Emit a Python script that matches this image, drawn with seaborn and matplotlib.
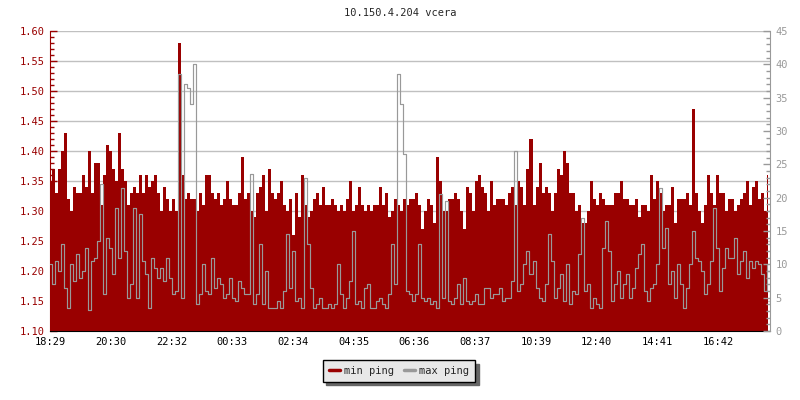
import matplotlib

matplotlib.use("Agg")

import matplotlib.pyplot as plt
import numpy as np
import pandas as pd
import seaborn as sns
from matplotlib.lines import Line2D
from matplotlib.ticker import MultipleLocator

TITLE = "10.150.4.204 vcera"
START_TIME = "18:29"
STEP_MINUTES = 6

tick_labels = ["18:29", "20:30", "22:32", "00:33", "02:34", "04:35",
               "06:36", "08:37", "10:39", "12:40", "14:41", "16:42"]

# min ping (left axis), one value every 6 minutes
min_ping = [
    1.35, 1.37, 1.33, 1.37, 1.40, 1.43, 1.32, 1.30, 1.34, 1.33,
    1.33, 1.36, 1.34, 1.40, 1.33, 1.38, 1.38, 1.31, 1.36, 1.41,
    1.40, 1.37, 1.35, 1.43, 1.37, 1.35, 1.31, 1.33, 1.34, 1.33,
    1.36, 1.33, 1.36, 1.34, 1.35, 1.36, 1.33, 1.30, 1.34, 1.32,
    1.30, 1.32, 1.30, 1.58, 1.36, 1.32, 1.33, 1.32, 1.32, 1.30,
    1.33, 1.31, 1.36, 1.36, 1.33, 1.32, 1.33, 1.31, 1.32, 1.35,
    1.32, 1.31, 1.31, 1.33, 1.39, 1.32, 1.33, 1.30, 1.29, 1.33,
    1.34, 1.36, 1.30, 1.37, 1.33, 1.32, 1.33, 1.35, 1.31, 1.30,
    1.32, 1.26, 1.33, 1.29, 1.36, 1.31, 1.29, 1.30, 1.32, 1.33,
    1.31, 1.34, 1.31, 1.31, 1.32, 1.31, 1.30, 1.31, 1.30, 1.32,
    1.35, 1.30, 1.31, 1.34, 1.31, 1.30, 1.31, 1.30, 1.31, 1.31,
    1.34, 1.31, 1.33, 1.29, 1.30, 1.32, 1.31, 1.30, 1.32, 1.31,
    1.32, 1.32, 1.33, 1.31, 1.27, 1.30, 1.32, 1.31, 1.28, 1.39,
    1.35, 1.30, 1.30, 1.32, 1.32, 1.33, 1.32, 1.30, 1.27, 1.34,
    1.33, 1.30, 1.35, 1.36, 1.34, 1.33, 1.30, 1.35, 1.31, 1.32,
    1.32, 1.32, 1.31, 1.33, 1.34, 1.31, 1.35, 1.34, 1.31, 1.37,
    1.42, 1.31, 1.34, 1.38, 1.33, 1.34, 1.33, 1.30, 1.33, 1.37,
    1.36, 1.40, 1.38, 1.33, 1.33, 1.30, 1.31, 1.28, 1.28, 1.30,
    1.35, 1.32, 1.31, 1.33, 1.32, 1.31, 1.31, 1.31, 1.33, 1.33,
    1.35, 1.32, 1.32, 1.31, 1.31, 1.32, 1.29, 1.31, 1.31, 1.30,
    1.36, 1.32, 1.35, 1.33, 1.30, 1.31, 1.31, 1.34, 1.28, 1.32,
    1.32, 1.32, 1.33, 1.31, 1.47, 1.33, 1.30, 1.28, 1.31, 1.36,
    1.33, 1.31, 1.36, 1.33, 1.33, 1.30, 1.32, 1.32, 1.30, 1.31,
    1.32, 1.33, 1.35, 1.31, 1.34, 1.35, 1.32, 1.33, 1.30, 1.36,
]

# max ping (right axis), same timestamps
max_ping = [
    10.0, 7.0, 10.5, 9.0, 13.0, 6.5, 3.5, 10.0, 7.5, 11.5,
    8.0, 9.0, 12.5, 3.2, 10.5, 11.0, 13.5, 22.0, 5.5, 14.0,
    12.5, 8.5, 18.5, 11.0, 21.5, 12.0, 5.0, 7.0, 18.5, 5.0,
    17.5, 10.5, 8.5, 3.5, 11.0, 9.5, 8.0, 9.5, 7.5, 11.0,
    8.0, 5.5, 6.0, 38.5, 5.0, 37.0, 36.5, 34.0, 40.0, 4.0,
    5.5, 10.0, 6.0, 5.5, 11.0, 6.5, 8.0, 7.0, 5.0, 5.5,
    8.0, 5.0, 4.5, 7.5, 6.5, 5.5, 5.5, 23.5, 4.0, 5.5,
    13.0, 4.0, 9.0, 3.5, 3.5, 3.5, 4.5, 3.5, 6.0, 14.5,
    6.5, 12.0, 4.5, 5.0, 3.5, 23.0, 13.0, 6.5, 3.5, 4.0,
    5.0, 3.5, 3.5, 4.0, 3.5, 4.0, 10.0, 5.5, 3.5, 5.0,
    7.5, 15.0, 4.0, 4.5, 3.5, 6.5, 7.0, 3.5, 3.5, 4.5,
    5.0, 4.0, 3.5, 5.5, 13.0, 7.0, 38.5, 34.0, 26.5, 6.0,
    5.5, 4.5, 5.5, 13.0, 5.0, 4.5, 5.0, 4.0, 4.5, 3.5,
    20.5, 5.0, 19.5, 4.5, 4.0, 5.0, 7.0, 4.0, 8.0, 4.5,
    4.0, 4.5, 5.5, 4.0, 4.0, 6.5, 6.5, 5.0, 5.5, 5.5,
    6.5, 4.5, 5.0, 5.0, 7.5, 27.0, 6.0, 7.0, 10.0, 12.0,
    8.5, 10.5, 6.5, 5.0, 4.5, 7.0, 14.5, 10.5, 5.0, 6.5,
    8.5, 4.5, 10.0, 4.0, 6.0, 5.5, 11.5, 17.0, 6.0, 7.0,
    3.5, 5.0, 4.0, 3.5, 12.5, 16.5, 12.0, 4.5, 7.0, 9.0,
    5.0, 7.0, 8.5, 5.0, 6.5, 9.5, 11.5, 13.0, 6.0, 4.5,
    6.5, 7.0, 10.0, 21.5, 12.5, 15.5, 7.0, 9.0, 5.0, 10.0,
    7.0, 3.5, 6.5, 10.0, 15.0, 11.0, 10.5, 9.0, 5.5, 7.0,
    10.5, 18.5, 12.5, 6.0, 9.5, 12.5, 11.0, 11.0, 14.0, 8.5,
    10.5, 12.0, 8.0, 10.5, 9.5, 10.5, 10.0, 8.5, 6.0, 10.0,
]

RED = "#990000"
GRAY = "#999999"


def minutes_from_start(label: str) -> int:
    h, m = map(int, label.split(":"))
    sh, sm = map(int, START_TIME.split(":"))
    return (h * 60 + m - (sh * 60 + sm)) % 1440


df = pd.DataFrame({
    "minute": np.arange(len(min_ping)) * STEP_MINUTES,
    "min_ping": min_ping,
    "max_ping": max_ping,
})

sns.set_style("white")
plt.rcParams["font.family"] = ["DejaVu Sans Mono"]
plt.rcParams["font.size"] = 7.5

fig = plt.figure(figsize=(8, 4), dpi=100)
ax = fig.add_axes([0.0625, 0.1725, 0.9, 0.75])

ax.set_axisbelow(True)
ax.grid(axis="y", color="#c0c0c0", linewidth=1)
ax.grid(axis="x", visible=False)
ax.fill_between(df["minute"], 1.10, df["min_ping"], step="mid",
                color=RED, linewidth=0, zorder=2)
ax.set_ylim(1.10, 1.60)
ax.set_xlim(0, 1437)
ax.yaxis.set_major_locator(MultipleLocator(0.05))
ax.yaxis.set_minor_locator(MultipleLocator(0.01))
ax.yaxis.set_major_formatter(lambda v, _: f"{v:.2f}")
ax.tick_params(axis="y", which="both", direction="in", colors=RED,
               labelcolor=RED, labelsize=7.5, pad=4, width=1)
ax.tick_params(axis="y", which="major", length=5)
ax.tick_params(axis="y", which="minor", length=3)
ax.set_xticks([minutes_from_start(t) for t in tick_labels])
ax.set_xticklabels(tick_labels)
ax.tick_params(axis="x", direction="in", length=4, colors="black",
               labelsize=7.5, pad=4)
ax.spines["left"].set_color(RED)
ax.spines["bottom"].set_color("black")
ax.spines["top"].set_visible(False)
ax.spines["right"].set_visible(False)
ax.set_xlabel("")
ax.set_ylabel("")

ax2 = ax.twinx()
sns.lineplot(data=df, x="minute", y="max_ping", ax=ax2, color=GRAY,
             linewidth=0.85, drawstyle="steps-mid", zorder=3)
ax2.set_ylim(0, 45)
ax2.set_xlim(0, 1437)
ax2.yaxis.set_major_locator(MultipleLocator(5))
ax2.yaxis.set_minor_locator(MultipleLocator(1))
ax2.tick_params(axis="y", which="both", direction="in", colors=GRAY,
                labelcolor=GRAY, labelsize=7.5, pad=4, width=1)
ax2.tick_params(axis="y", which="major", length=5)
ax2.tick_params(axis="y", which="minor", length=3)
for side in ("left", "top", "bottom"):
    ax2.spines[side].set_visible(False)
ax2.spines["right"].set_color(GRAY)
ax2.set_xlabel("")
ax2.set_ylabel("")

fig.text(0.5, 1 - 13 / 400, TITLE, ha="center", va="center", fontsize=7.5)

handles = [
    Line2D([], [], color=RED, linewidth=2.5, label="min ping"),
    Line2D([], [], color=GRAY, linewidth=2.5, label="max ping"),
]
fig.legend(handles=handles, loc="center", bbox_to_anchor=(399 / 800, 1 - 371 / 400),
           ncol=2, frameon=True, fancybox=False, edgecolor="black",
           facecolor="#e8e8e8", framealpha=1, fontsize=7.5,
           handlelength=1.1, handletextpad=0.4, columnspacing=0.9,
           borderpad=0.55, shadow={"color": "#666666", "alpha": 1, "ox": 2.5, "oy": -2.5})

fig.savefig("out.png", dpi=100)
plt.close(fig)
